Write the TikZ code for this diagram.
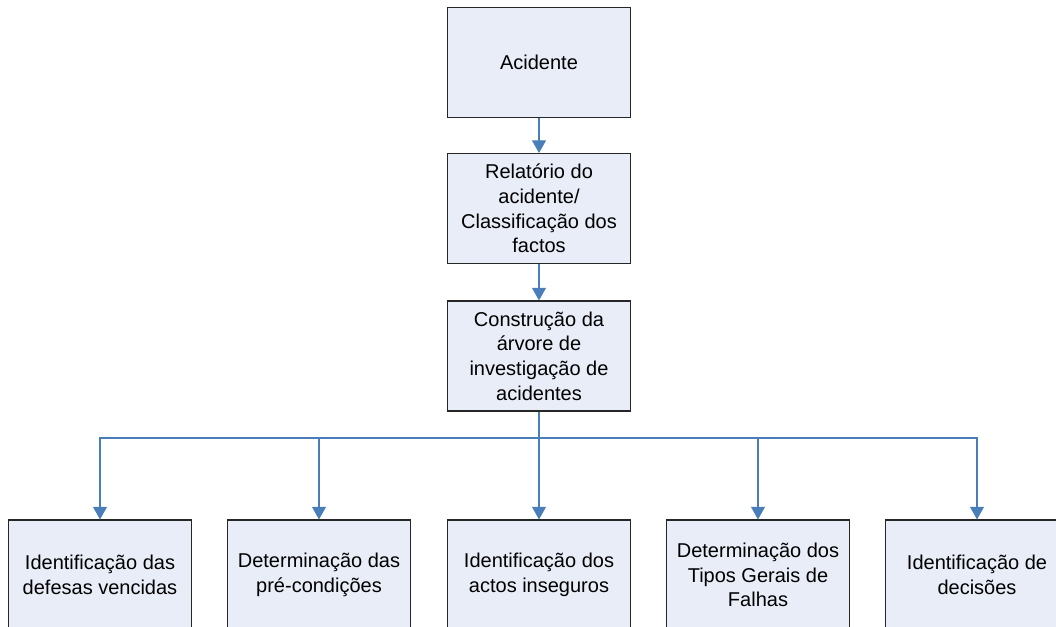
\documentclass[tikz,border=0pt]{standalone}
\usepackage{fontspec}
\setmainfont{Liberation Sans}
\usetikzlibrary{arrows.meta}
\definecolor{boxfill}{HTML}{E8EDF7}
\definecolor{boxline}{HTML}{262626}
\definecolor{linkblue}{HTML}{4A7EBB}
\begin{document}
\begin{tikzpicture}[x=0.75pt,y=-0.75pt,
  stepbox/.style={draw=boxline,fill=boxfill,line width=0.8pt,
    minimum width=137.25pt,minimum height=82.5pt,inner sep=0pt,
    align=center,font=\fontsize{15pt}{18.5pt}\selectfont},
  link/.style={draw=linkblue,line width=0.8pt,
    -{Triangle[width=10.5pt,length=9.5pt]}}]
\useasboundingbox (0,0) rectangle (1056,627);
% main chain
\node[stepbox] (a) at (539,62.5) {Acidente};
\node[stepbox] (r) at (539,208.5) {Relatório do\\acidente/\\Classificação dos\\factos};
\node[stepbox] (c) at (539,356) {Construção da\\árvore de\\investigação de\\acidentes};
% analysis branches
\node[stepbox] (b1) at (100,575) {Identificação das\\defesas vencidas};
\node[stepbox] (b2) at (319,575) {Determinação das\\pré-condições};
\node[stepbox] (b3) at (539,575) {Identificação dos\\actos inseguros};
\node[stepbox] (b4) at (758,575) {Determinação dos\\Tipos Gerais de\\Falhas};
\node[stepbox] (b5) at (977,575) {Identificação de\\decisões};
\coordinate (bus) at (539,438);
\draw[link] (a) -- (r);
\draw[link] (r) -- (c);
\foreach \b in {b1,b2,b3,b4,b5}
  \draw[link] (c.south) -- (bus) -| (\b.north);
\end{tikzpicture}
\end{document}
